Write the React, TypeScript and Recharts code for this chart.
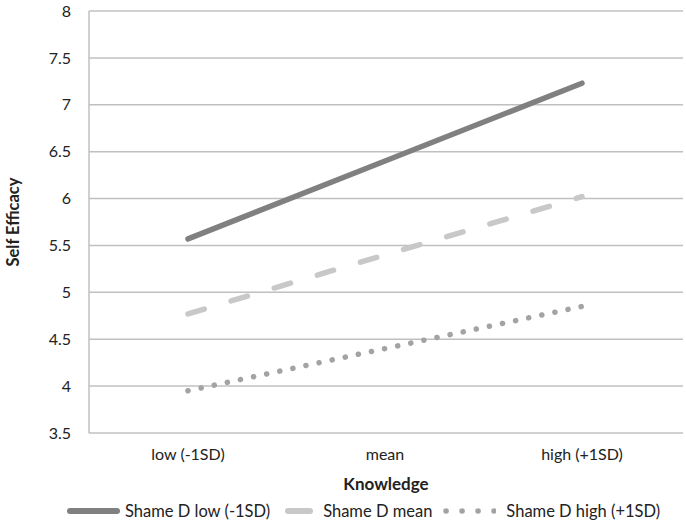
import * as React from 'react';
import { LineChart, Line, XAxis, YAxis, CartesianGrid, Legend } from 'recharts';

const categories = ['low (-1SD)', 'mean', 'high (+1SD)'];
const shameLow = [5.57, 6.4, 7.23];
const shameMean = [4.77, 5.4, 6.02];
const shameHigh = [3.95, 4.4, 4.85];
const yTicks = [3.5, 4, 4.5, 5, 5.5, 6, 6.5, 7, 7.5, 8];

const data = categories.map((k, i) => ({
  k,
  low: shameLow[i],
  mean: shameMean[i],
  high: shameHigh[i],
}));

const series = [
  { key: 'low', name: 'Shame D low (-1SD)', color: '#808080', dash: undefined as string | undefined, w: 5.5 },
  { key: 'mean', name: 'Shame D mean', color: '#c8c8c8', dash: '17 28', w: 5.5 },
  { key: 'high', name: 'Shame D high (+1SD)', color: '#a3a3a3', dash: '0.1 13.3', w: 5.5 },
];

const font = 'Lato, "Open Sans", sans-serif';
const ink = '#222';

function XTitle(props: any) {
  const vb = props.viewBox;
  return (
    <text x={vb.x + vb.width / 2} y={vb.y + vb.height - 8} textAnchor="middle"
      fill={ink} fontSize={17} fontWeight={700} fontFamily={font}>
      Knowledge
    </text>
  );
}

function LegendBox() {
  return (
    <div style={{ display: 'flex', alignItems: 'center', paddingLeft: 64, height: 26, fontFamily: font, fontSize: 16.5, color: ink, whiteSpace: 'nowrap' }}>
      <svg width={56} height={10}>
        <line x1={6} y1={5} x2={53} y2={5} stroke={series[0].color} strokeWidth={6} strokeLinecap="round" />
      </svg>
      <span style={{ marginLeft: 5, marginRight: 15 }}>{series[0].name}</span>
      <svg width={28} height={10}>
        <line x1={3} y1={5} x2={25} y2={5} stroke={series[1].color} strokeWidth={6} strokeLinecap="round" />
      </svg>
      <span style={{ marginLeft: 10, marginRight: 10 }}>{series[1].name}</span>
      <svg width={54} height={10}>
        <line x1={4} y1={5} x2={52} y2={5} stroke={series[2].color} strokeWidth={5.5}
          strokeLinecap="round" strokeDasharray="0.1 15.9" />
      </svg>
      <span style={{ marginLeft: 10 }}>{series[2].name}</span>
    </div>
  );
}

export default function App() {
  return (
    <div style={{ position: 'absolute', left: 0, top: 0 }}>
      <LineChart width={686} height={524} data={data} margin={{ top: 11, right: 3, left: 0, bottom: 0 }}>
        <CartesianGrid vertical={false} stroke="#c0c0c0" strokeWidth={1.5} />
        <XAxis
          dataKey="k"
          axisLine={false}
          tickLine={false}
          tickSize={0}
          tickMargin={16}
          height={65}
          padding={{ left: 99, right: 101 }}
          tick={{ fill: ink, fontSize: 16, fontFamily: font }}
          label={<XTitle />}
        />
        <YAxis
          domain={[3.5, 8]}
          ticks={yTicks}
          width={89}
          axisLine={{ stroke: '#c0c0c0', strokeWidth: 1.5 }}
          tickLine={false}
          tickSize={0}
          tickMargin={18}
          tick={{ fill: ink, fontSize: 16, fontFamily: font }}
          label={{ value: 'Self Efficacy', angle: -90, position: 'insideLeft', offset: 13, fill: ink, fontSize: 16.5, fontWeight: 700, fontFamily: font, style: { textAnchor: 'middle' } }}
        />
        <Legend verticalAlign="bottom" align="left" content={() => <LegendBox />} />
        {series.map((s) => (
          <Line
            key={s.key}
            dataKey={s.key}
            name={s.name}
            stroke={s.color}
            strokeWidth={s.w}
            strokeDasharray={s.dash}
            strokeLinecap="round"
            dot={false}
            activeDot={false}
            isAnimationActive={false}
          />
        ))}
      </LineChart>
    </div>
  );
}
